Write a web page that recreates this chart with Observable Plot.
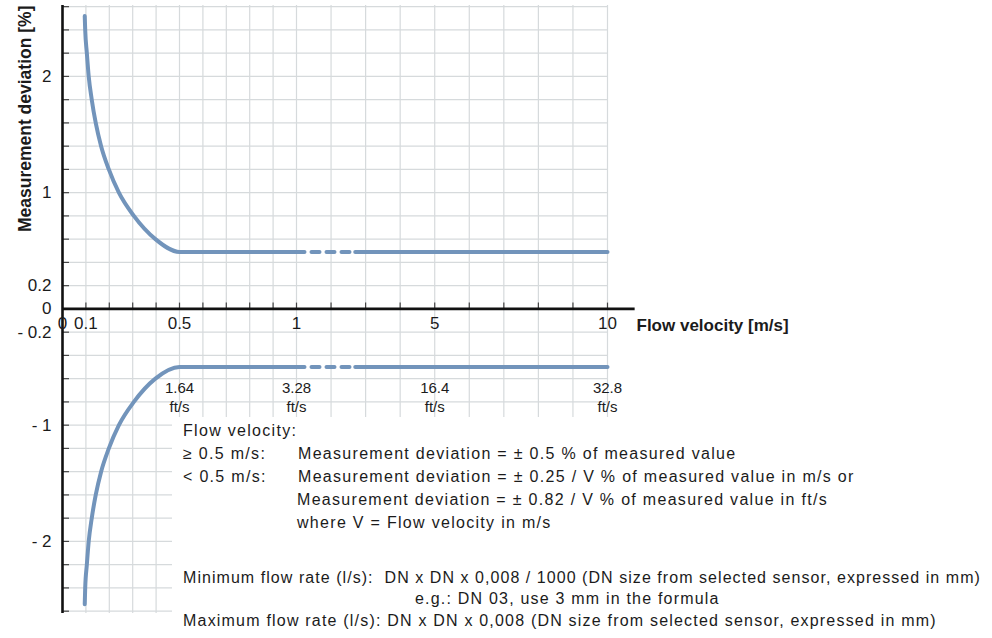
<!DOCTYPE html>
<html><head><meta charset="utf-8">
<script src="https://cdn.jsdelivr.net/npm/d3@7"></script>
<script src="https://cdn.jsdelivr.net/npm/@observablehq/plot@0.6"></script>
<style>
body{margin:0;background:#fff;font-family:"Liberation Sans",Arial,sans-serif;}
#wrap{position:relative;width:992px;height:638px;overflow:hidden;}
#notes{position:absolute;left:172px;top:417px;width:820px;height:221px;background:#fff;color:#1b1b1b;font-size:16px;letter-spacing:1.3px;}
#notes div{position:absolute;white-space:pre;line-height:20px;}
#notes div.tight{letter-spacing:1.2px;}
#notes div.tighter{letter-spacing:1.05px;}
</style></head><body><div id="wrap"><div id="chart"></div><div id="notes"></div></div>
<script>
// Curve (flow velocity in m/s, deviation in %)
const velocityCurve = [0.095, 0.097, 0.104, 0.112, 0.125, 0.142, 0.165, 0.198, 0.241, 0.305, 0.397, 0.5, 0.6, 1.0];
const deviationUpper = [2.52, 2.4, 2.2, 2.0, 1.8, 1.6, 1.4, 1.2, 1.0, 0.8, 0.6, 0.49, 0.49, 0.49];
const deviationLower = [-2.54, -2.4, -2.2, -2.0, -1.8, -1.6, -1.4, -1.2, -1.0, -0.8, -0.6, -0.5, -0.5, -0.5];
const velocityDashed = [1.0, 2.7];
const velocitySolid = [2.7, 10];
const plateauUpper = 0.49;
const plateauLower = -0.5;

// Axes
const xTickValues = [0, 0.1, 0.5, 1, 5, 10];
const xTickLabels = ["0", "0.1", "0.5", "1", "5", "10"];
const xGridValues = [0.1, 0.2, 0.3, 0.4, 0.5, 0.6, 0.7, 0.8, 0.9, 1, 2, 3, 4, 5, 6, 7, 8, 9, 10];
const yTickValues = [2, 1, 0.2, 0, -0.2, -1, -2];
const yTickLabels = ["2", "1", "0.2", "0", "- 0.2", "- 1", "- 2"];
const yGridValues = [-2.6,-2.4,-2.2,-2,-1.8,-1.6,-1.4,-1.2,-1,-0.8,-0.6,-0.4,-0.2,0.2,0.4,0.6,0.8,1,1.2,1.4,1.6,1.8,2,2.2,2.4,2.6];
const ftValues = [0.5, 1, 5, 10];
const ftLabels = ["1.64\nft/s", "3.28\nft/s", "16.4\nft/s", "32.8\nft/s"];
const yTitle = "Measurement deviation [%]";
const xTitle = "Flow velocity [m/s]";

const upper = velocityCurve.map((v, i) => ({v, d: deviationUpper[i]}));
const lower = velocityCurve.map((v, i) => ({v, d: deviationLower[i]}));
const lineColor = "#7294bb";
const gridColor = "#d6dadc";
const ink = "#1b1b1b";

const chart = Plot.plot({
  width: 992, height: 638,
  marginLeft: 62, marginRight: 385, marginTop: 5, marginBottom: 25,
  style: {fontFamily: "'Liberation Sans', Arial, sans-serif", fontSize: "16px", color: ink, background: "transparent"},
  x: {type: "linear", domain: [0, 1, 10], range: [62, 296, 607], axis: null},
  y: {domain: [-2.62, 2.61], axis: null},
  marks: [
    Plot.ruleX(xGridValues, {y1: -2.62, y2: 2.61, stroke: gridColor, strokeWidth: 1.2}),
    Plot.ruleY(yGridValues, {x1: 0, x2: 10, stroke: gridColor, strokeWidth: 1.2}),
    // inner ticks
    Plot.ruleY(yGridValues, {x1: 0, x2: 0.03, stroke: "#444", strokeWidth: 1.2}),
    Plot.ruleX(xGridValues, {y1: 0, y2: 0.05, stroke: "#444", strokeWidth: 1.2}),
    // axes lines
    Plot.ruleX([0], {y1: -2.62, y2: 2.61, stroke: "#111", strokeWidth: 2.6}),
    Plot.ruleY([0], {x1: 0, x2: 10.8, stroke: "#111", strokeWidth: 2.6}),
    // curves
    Plot.line(upper, {x: "v", y: "d", stroke: lineColor, strokeWidth: 4, curve: "monotone-x", strokeLinecap: "round"}),
    Plot.line(lower, {x: "v", y: "d", stroke: lineColor, strokeWidth: 4, curve: "monotone-x", strokeLinecap: "round"}),
    Plot.line(velocityDashed, {x: d => d, y: () => plateauUpper, stroke: lineColor, strokeWidth: 4, strokeLinecap: "round", strokeDasharray: "8 7"}),
    Plot.line(velocityDashed, {x: d => d, y: () => plateauLower, stroke: lineColor, strokeWidth: 4, strokeLinecap: "round", strokeDasharray: "8 7"}),
    Plot.line(velocitySolid, {x: d => d, y: () => plateauUpper, stroke: lineColor, strokeWidth: 4, strokeLinecap: "round"}),
    Plot.line(velocitySolid, {x: d => d, y: () => plateauLower, stroke: lineColor, strokeWidth: 4, strokeLinecap: "round"}),
    // tick labels
    Plot.text(xTickValues, {x: d => d, y: 0, text: (d, i) => xTickLabels[i], dy: 15, fill: ink, fontSize: 17, letterSpacing: 0.4}),
    Plot.text(yTickValues, {x: 0, y: d => d, text: (d, i) => yTickLabels[i], textAnchor: "end", dx: -11, fill: ink, fontSize: 17, letterSpacing: 0.4}),
    Plot.text(ftValues, {x: d => d, y: plateauLower, text: (d, i) => ftLabels[i], dy: 29, lineHeight: 1.3, fill: ink, fontSize: 15}),
    // axis titles
    Plot.text([yTitle], {frameAnchor: "top-left", dx: -44, dy: 0, rotate: -90, textAnchor: "end", fontWeight: "bold", fill: ink, fontSize: 17.5, letterSpacing: 1.3}),
    Plot.text([xTitle], {x: 10, y: 0, dx: 29, dy: 17, textAnchor: "start", fontWeight: "bold", fill: ink, fontSize: 17, letterSpacing: 0.4})
  ]
});
document.getElementById("chart").appendChild(chart);

const noteLines = [
  ["Flow velocity:", 11, 431, ""],
  ["\u2265 0.5 m/s:", 11, 454, ""],
  ["Measurement deviation = \u00b1 0.5 % of measured value", 126, 454, ""],
  ["< 0.5 m/s:", 11, 477, ""],
  ["Measurement deviation = \u00b1 0.25 / V % of measured value in m/s or", 126, 477, ""],
  ["Measurement deviation = \u00b1 0.82 / V % of measured value in ft/s", 125, 500, ""],
  ["where V = Flow velocity in m/s", 125, 523, ""],
  ["Minimum flow rate (l/s):  DN x DN x 0,008 / 1000 (DN size from selected sensor, expressed in mm)", 11, 578, "tighter"],
  ["e.g.: DN 03, use 3 mm in the formula", 243, 599, "tight"],
  ["Maximum flow rate (l/s): DN x DN x 0,008 (DN size from selected sensor, expressed in mm)", 11, 621, "tight"]
];
const notes = document.getElementById("notes");
for (const [t, x, y, cls] of noteLines) {
  const el = document.createElement("div");
  el.textContent = t;
  if (cls) el.className = cls;
  el.style.left = x + "px";
  el.style.top = (y - 417 - 10) + "px";
  notes.appendChild(el);
}
</script></body></html>
